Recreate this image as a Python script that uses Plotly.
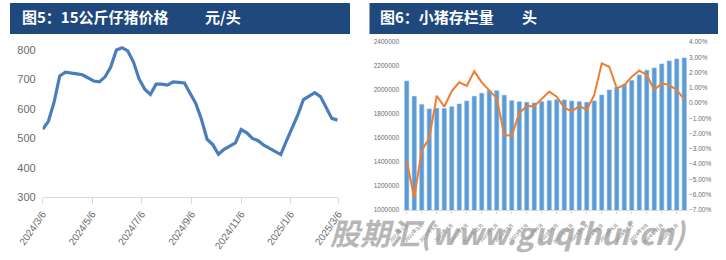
import plotly.graph_objects as go
import pandas as pd

# ---------- Left chart data: 15kg piglet price (元/头), weekly ----------
price_start = "2024-03-06"
piglet_price = [531, 558, 622, 712, 725, 721, 719, 716, 706, 695,
                692, 709, 742, 800, 808, 797, 760, 702, 667, 649,
                684, 684, 681, 692, 690, 688, 653, 619, 565, 497,
                479, 446, 463, 474, 485, 530, 519, 500, 492, 477,
                467, 456, 445, 492, 535, 580, 632, 642, 655, 642,
                607, 568, 562]
left_ticks = ["2024-03-06", "2024-05-06", "2024-07-06", "2024-09-06",
              "2024-11-06", "2025-01-06", "2025-03-06"]
left_tick_text = ["2024/3/6", "2024/5/6", "2024/7/6", "2024/9/6",
                  "2024/11/6", "2025/1/6", "2025/3/6"]

# ---------- Right chart data: piglet inventory (头) and change (%) ----------
months = [f"{y}年{m}月" for y in (2022, 2023, 2024) for m in range(1, 13)] + ["2025年1月", "2025年2月"]
inventory = [2075000, 1947000, 1880000, 1842000, 1847000, 1845000, 1861000, 1883000,
             1908000, 1947000, 1972000, 1994000, 1994000, 1956000, 1911000, 1903000,
             1897000, 1892000, 1903000, 1911000, 1919000, 1917000, 1908000, 1903000,
             1897000, 1908000, 1958000, 2000000, 2022000, 2047000, 2080000, 2125000,
             2164000, 2183000, 2217000, 2242000, 2258000, 2267000]
change_pct = [-3.8, -6.2, -3.1, -2.3, 0.48, -0.24, 0.79, 1.36, 1.12, 2.08,
              1.36, 0.81, 0.31, -2.09, -2.13, -0.67, -0.19, -0.21, 0.3, 0.75,
              0.42, -0.28, -0.56, -0.19, -0.45, 0.53, 2.6, 2.38, 0.97, 1.18,
              1.73, 2.12, 1.84, 0.86, 1.29, 1.18, 0.86, 0.25]

W, H = 726, 260
def px(x): return x / W
def py(y): return (H - y) / H

dates = pd.date_range(price_start, periods=len(piglet_price), freq="7D")

fig = go.Figure()
fig.add_trace(go.Scatter(x=dates, y=piglet_price, mode="lines",
                         line=dict(color="#4a7ebb", width=3.2, shape="linear"),
                         xaxis="x", yaxis="y", showlegend=False, hoverinfo="skip"))
fig.add_trace(go.Bar(x=months, y=inventory, marker=dict(color="#5b9bd5", line=dict(color="#7fb2e0", width=0.6)),
                     xaxis="x2", yaxis="y2", showlegend=False, hoverinfo="skip"))
fig.add_trace(go.Scatter(x=months, y=change_pct, mode="lines",
                         line=dict(color="#ed7d31", width=2),
                         xaxis="x2", yaxis="y3", showlegend=False, hoverinfo="skip"))

gray = "#6b6b6b"
fig.update_layout(
    width=W, height=H, margin=dict(l=0, r=0, t=0, b=0, autoexpand=False),
    paper_bgcolor="white", plot_bgcolor="white",
    font=dict(family="Liberation Sans, Arial, sans-serif", color=gray),
    bargap=0.45,
    xaxis=dict(domain=[px(42.7), px(338.3)], type="date", automargin=False,
               range=["2024-03-06", "2025-03-06"],
               tickvals=left_ticks, ticktext=left_tick_text, tickangle=-55,
               tickfont=dict(size=10, color=gray),
               showgrid=False, showline=True, linecolor="#d9d9d9", linewidth=1,
               ticks="outside", ticklen=6, tickcolor="#d9d9d9", anchor="y", zeroline=False),
    yaxis=dict(domain=[py(197.3), py(41.2)], range=[300, 830], automargin=False,
               tickvals=[300, 400, 500, 600, 700, 800], ticklabelstandoff=6,
               tickfont=dict(size=11, color=gray), showgrid=False, showline=False,
               zeroline=False, anchor="x"),
    xaxis2=dict(domain=[px(403), px(688)], type="category", range=[-0.5, 37.5], automargin=False,
                tickvals=months[::2], tickangle=-45, ticklabelstandoff=6,
                tickfont=dict(size=5, color=gray),
                showgrid=False, showline=True, linecolor="#d9d9d9", linewidth=1,
                ticks="outside", ticklen=3, tickcolor="#d9d9d9", anchor="y2"),
    yaxis2=dict(domain=[py(210), py(42)], range=[1000000, 2400000], dtick=200000, automargin=False,
                tickformat="d", tickfont=dict(size=6.5, color=gray), ticklabelstandoff=3,
                showgrid=False, showline=False, zeroline=False, anchor="x2"),
    yaxis3=dict(overlaying="y2", side="right", range=[-7, 4], dtick=1, automargin=False,
                tickformat=".2f", ticksuffix="%", tickfont=dict(size=6.5, color=gray),
                showgrid=False, showline=False, zeroline=False, anchor="x2"),
)

header = "#1f497d"
fig.add_shape(type="rect", xref="paper", yref="paper",
              x0=px(10), x1=px(350), y0=py(34), y1=py(3),
              fillcolor=header, line=dict(width=0), layer="below")
fig.add_shape(type="rect", xref="paper", yref="paper",
              x0=px(369.5), x1=px(718), y0=py(34), y1=py(3),
              fillcolor=header, line=dict(width=0), layer="below")

tfont = dict(family="Noto Sans CJK SC, sans-serif", size=15, color="white")
for x, y, t in [(20, 16.5, "<b>图5：15公斤仔猪价格</b>"), (203, 16.5, "<b>元/头</b>"),
                (378, 16.5, "<b>图6：小猪存栏量</b>"), (520, 16.5, "<b>头</b>")]:
    fig.add_annotation(x=px(x), y=py(y), xref="paper", yref="paper", text=t,
                       showarrow=False, xanchor="left", yanchor="middle", font=tfont)

fig.add_annotation(x=px(328), y=py(232), xref="paper", yref="paper",
                   text="<b><i>股期汇(www.guqihui.cn)</i></b>", showarrow=False,
                   xanchor="left", yanchor="middle",
                   font=dict(family="Noto Sans CJK SC, sans-serif", size=30, color="rgba(150,150,150,0.7)"))

fig.write_html("out.html")
